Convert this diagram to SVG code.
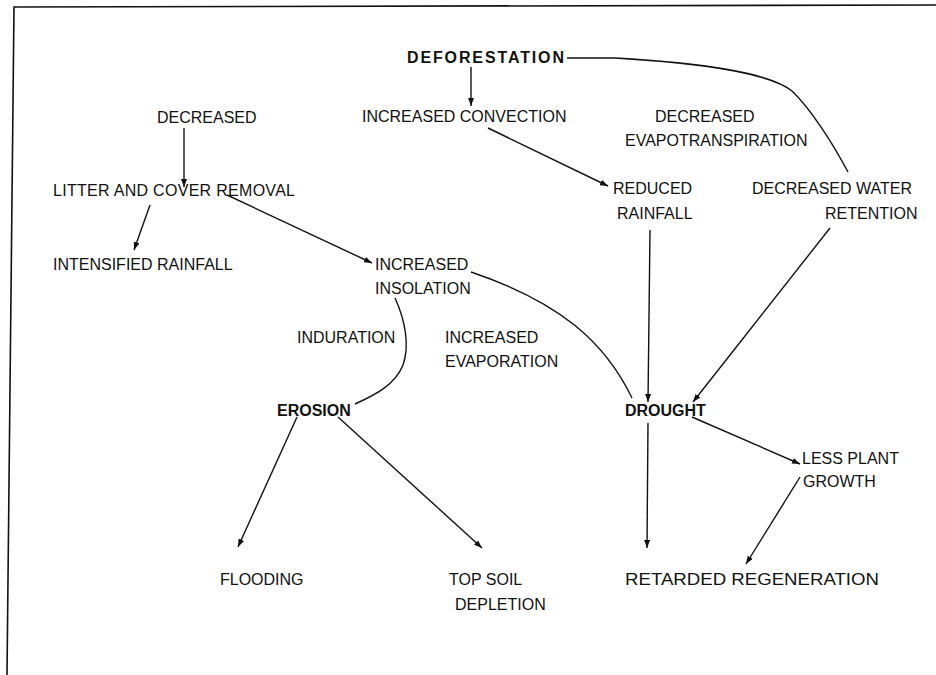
<svg xmlns="http://www.w3.org/2000/svg" width="936" height="675" viewBox="0 0 936 675">
<style>
text{font-family:"Liberation Sans",Arial,sans-serif;font-size:16px;fill:#111}
.b{font-weight:bold}
.c{fill:none;stroke:#111;stroke-width:1.4}
.a{marker-end:url(#ah)}
.f{fill:none;stroke:#111;stroke-width:1.6}
</style>
<defs>
<marker id="ah" markerWidth="9" markerHeight="7" refX="8" refY="3" orient="auto" markerUnits="userSpaceOnUse">
<path d="M0,0 L8,3 L0,6 z" fill="#111"/>
</marker>
</defs>
<rect width="936" height="675" fill="#fff"/>
<g id="frame">
<path class="f" d="M936,5 L14,7 L7,675"/>
</g>
<g id="connectors">
<path class="c a" d="M471,67 L471,106"/>
<path class="c" d="M567,58 L615,58 C700,63 768,72 792,91 C810,108 832,142 848,172"/>
<path class="c a" d="M184,128 L184,187"/>
<path class="c a" d="M150,205 L134,250"/>
<path class="c a" d="M227,195 L372,263"/>
<path class="c a" d="M488,128 L608,186"/>
<path class="c a" d="M650,230 L648,402"/>
<path class="c a" d="M830,228 L693,402"/>
<path class="c" d="M471,272 C560,302 605,342 632,398"/>
<path class="c" d="M395,298 C405,320 410,345 403,365 C395,385 375,395 355,404"/>
<path class="c a" d="M297,417 L238,547"/>
<path class="c a" d="M338,417 L482,548"/>
<path class="c a" d="M648,423 L647,548"/>
<path class="c a" d="M692,417 L800,464"/>
<path class="c a" d="M800,477 L746,564"/>
</g>
<g id="deforestation"><text class="b" x="407" y="63" textLength="157">DEFORESTATION</text></g>
<g id="increased-convection"><text x="362" y="122">INCREASED CONVECTION</text></g>
<g id="decreased-evapotranspiration"><text x="655" y="122">DECREASED</text><text x="625" y="146">EVAPOTRANSPIRATION</text></g>
<g id="decreased"><text x="157" y="123">DECREASED</text></g>
<g id="litter-cover-removal"><text x="53" y="196" textLength="242">LITTER AND COVER REMOVAL</text></g>
<g id="intensified-rainfall"><text x="53" y="270">INTENSIFIED RAINFALL</text></g>
<g id="reduced-rainfall"><text x="613" y="194">REDUCED</text><text x="617" y="219">RAINFALL</text></g>
<g id="decreased-water-retention"><text x="752" y="194">DECREASED WATER</text><text x="825" y="219">RETENTION</text></g>
<g id="increased-insolation"><text x="375" y="270">INCREASED</text><text x="375" y="294">INSOLATION</text></g>
<g id="induration"><text x="297" y="343">INDURATION</text></g>
<g id="increased-evaporation"><text x="445" y="343">INCREASED</text><text x="445" y="367">EVAPORATION</text></g>
<g id="erosion"><text class="b" x="277" y="416">EROSION</text></g>
<g id="drought"><text class="b" x="625" y="416">DROUGHT</text></g>
<g id="less-plant-growth"><text x="802" y="464">LESS PLANT</text><text x="803" y="487">GROWTH</text></g>
<g id="flooding"><text x="220" y="585">FLOODING</text></g>
<g id="top-soil-depletion"><text x="449" y="585">TOP SOIL</text><text x="455" y="610">DEPLETION</text></g>
<g id="retarded-regeneration"><text x="625" y="585" textLength="254" lengthAdjust="spacingAndGlyphs">RETARDED REGENERATION</text></g>
</svg>
